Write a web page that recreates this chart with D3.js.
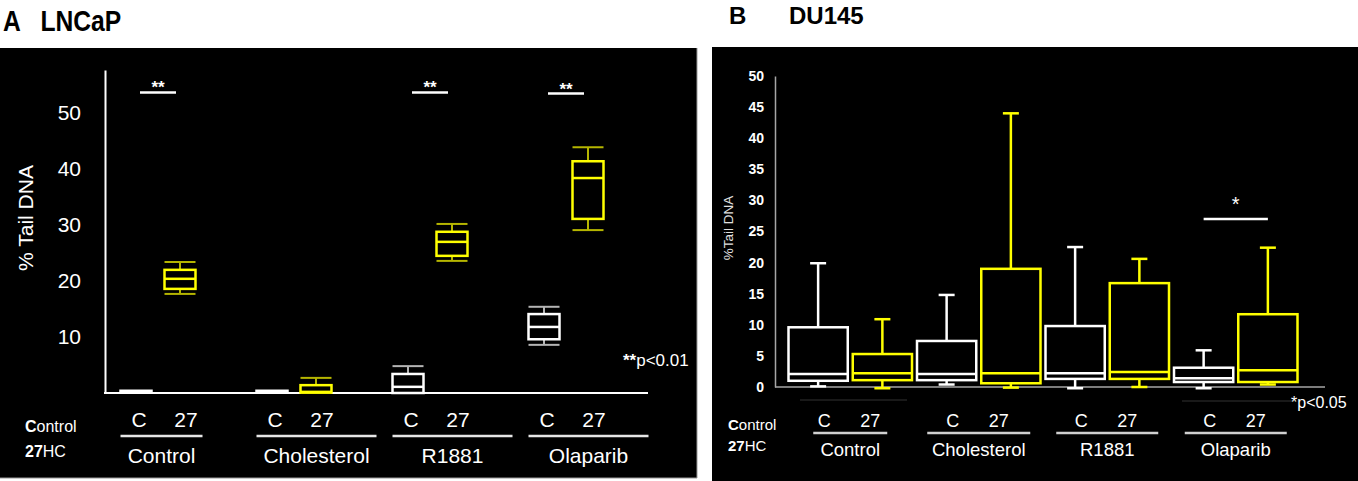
<!DOCTYPE html>
<html>
<head>
<meta charset="utf-8">
<script src="https://cdn.jsdelivr.net/npm/d3@7/dist/d3.min.js"></script>
<style>
  body { margin: 0; background: #fff; }
  svg text { font-family: "Liberation Sans", Arial, sans-serif; }
</style>
</head>
<body>
<div id="zone"></div>
<script>
  "use strict";

  // ---- données ----
  var groups = ["Control", "Cholesterol", "R1881", "Olaparib"];
  var treatments = ["C", "27"];

  var ticksA = [10, 20, 30, 40, 50];
  var ticksB = [0, 5, 10, 15, 20, 25, 30, 35, 40, 45, 50];

  // LNCaP, ordre : Control C, Control 27, Cholesterol C, Cholesterol 27, R1881 C, R1881 27, Olaparib C, Olaparib 27
  var lncapMin = [0.2, 17.7, 0.2, 0.0, 0.0, 23.6, 8.6, 29.1];
  var lncapQ1  = [0.2, 18.6, 0.2, 0.1, 0.0, 24.5, 9.6, 31.1];
  var lncapMed = [0.3, 20.4, 0.3, 0.2, 1.1, 27.0, 11.8, 38.4];
  var lncapQ3  = [0.4, 22.0, 0.4, 1.4, 3.4, 28.8, 14.1, 41.4];
  var lncapMax = [0.4, 23.4, 0.4, 2.7, 4.8, 30.2, 15.4, 43.9];

  // DU145, même ordre
  var du145Min = [0.1, -0.2, 0.4, -0.1, -0.2, 0.0, -0.2, 0.4];
  var du145Q1  = [1.0, 1.1, 1.1, 0.6, 1.3, 1.3, 0.8, 0.8];
  var du145Med = [2.1, 2.2, 2.1, 2.2, 2.2, 2.4, 1.4, 2.7];
  var du145Q3  = [9.6, 5.3, 7.4, 19.0, 9.8, 16.7, 3.1, 11.7];
  var du145Max = [19.9, 10.9, 14.8, 44.0, 22.5, 20.6, 5.9, 22.4];

  // barres de significativité : groupe, hauteur, étiquette
  var sigA = [{ group: "Control", value: 53.7, label: "**" },
              { group: "R1881", value: 53.7, label: "**" },
              { group: "Olaparib", value: 53.5, label: "**" }];
  var sigB = [{ group: "Olaparib", value: 27.0, label: "*" }];

  function buildStats(mins, q1s, meds, q3s, maxs) {
    var out = [];
    groups.forEach(function(g, gi) {
      treatments.forEach(function(t, ti) {
        var i = gi * 2 + ti;
        out.push({ group: g, treatment: t, min: mins[i], q1: q1s[i], med: meds[i], q3: q3s[i], max: maxs[i] });
      });
    });
    return out;
  }

  var statsA = buildStats(lncapMin, lncapQ1, lncapMed, lncapQ3, lncapMax);
  var statsB = buildStats(du145Min, du145Q1, du145Med, du145Q3, du145Max);

  var svg = d3.select("#zone").append("svg")
    .attr("width", 1358)
    .attr("height", 481);

  // ---- dessin d'une série de boîtes ----
  function drawBoxes(layer, stats, xc, y, boxW, capW, boxColor, whiskerColor, sw, wsw) {
    var box = layer.selectAll(".box").data(stats).enter().append("g").attr("class", "box");

    box.append("line")
      .attr("x1", function(d) { return xc(d); }).attr("x2", function(d) { return xc(d); })
      .attr("y1", function(d) { return y(d.max); }).attr("y2", function(d) { return y(d.q3); })
      .attr("stroke", function(d) { return whiskerColor[d.treatment]; }).attr("stroke-width", wsw);
    box.append("line")
      .attr("x1", function(d) { return xc(d); }).attr("x2", function(d) { return xc(d); })
      .attr("y1", function(d) { return y(d.q1); }).attr("y2", function(d) { return y(d.min); })
      .attr("stroke", function(d) { return whiskerColor[d.treatment]; }).attr("stroke-width", wsw);
    // moustaches (caps)
    ["max", "min"].forEach(function(k) {
      box.filter(function(d) { return d.max - d.min > 1; }).append("line")
        .attr("x1", function(d) { return xc(d) - capW / 2; }).attr("x2", function(d) { return xc(d) + capW / 2; })
        .attr("y1", function(d) { return y(d[k]); }).attr("y2", function(d) { return y(d[k]); })
        .attr("stroke", function(d) { return whiskerColor[d.treatment]; }).attr("stroke-width", wsw);
    });
    box.append("rect")
      .attr("x", function(d) { return xc(d) - boxW / 2; })
      .attr("width", boxW)
      .attr("y", function(d) { return y(d.q3); })
      .attr("height", function(d) { return Math.max(0.5, y(d.q1) - y(d.q3)); })
      .attr("fill", "none")
      .attr("stroke", function(d) { return boxColor[d.treatment]; })
      .attr("stroke-width", sw);
    box.append("line")
      .attr("x1", function(d) { return xc(d) - boxW / 2; }).attr("x2", function(d) { return xc(d) + boxW / 2; })
      .attr("y1", function(d) { return y(d.med); }).attr("y2", function(d) { return y(d.med); })
      .attr("stroke", function(d) { return boxColor[d.treatment]; }).attr("stroke-width", sw);
  }

  // =====================  Panneau A : LNCaP  =====================
  var gA = svg.append("g").attr("id", "panelA");
  gA.append("rect").attr("x", 0).attr("y", 48).attr("width", 697).attr("height", 430).attr("fill", "#000");
  gA.append("line").attr("x1", 697).attr("x2", 697).attr("y1", 48).attr("y2", 478).attr("stroke", "#999");
  gA.append("line").attr("x1", 0).attr("x2", 697).attr("y1", 478).attr("y2", 478).attr("stroke", "#999");

  var title = gA.append("g").attr("transform", "translate(3,31) scale(0.85,1)");
  title.append("text").text("A").attr("font-size", 29).attr("font-weight", "bold");
  title.append("text").text("LNCaP").attr("x", 44).attr("font-size", 29).attr("font-weight", "bold");

  var yA = d3.scaleLinear().domain([0, 57.7]).range([393, 70]);
  var gxA = d3.scaleBand().domain(groups).range([90, 634]);
  var txA = d3.scalePoint().domain(treatments).range([-22, 22]);
  function xcA(d) { return gxA(d.group) + gxA.bandwidth() / 2 + txA(d.treatment); }

  var axA = gA.append("g").attr("transform", "translate(105,0)")
    .call(d3.axisLeft(yA).tickValues(ticksA).tickSize(0).tickSizeOuter(0).tickPadding(24));
  axA.select(".domain").attr("stroke", "#fff").attr("stroke-width", 2);
  axA.selectAll("text").attr("fill", "#fff").attr("font-size", 21)
    .attr("font-family", "\"Liberation Sans\", Arial, sans-serif");

  gA.append("line").attr("x1", 104).attr("x2", 648).attr("y1", yA(0)).attr("y2", yA(0))
    .attr("stroke", "#fff").attr("stroke-width", 2);

  gA.append("text").text("% Tail DNA")
    .attr("transform", "translate(33,218) rotate(-90)")
    .attr("text-anchor", "middle").attr("fill", "#fff").attr("font-size", 21);

  drawBoxes(gA.append("g"), statsA, xcA, yA, 31, 31,
    { "C": "#ffffff", "27": "#ffff00" }, { "C": "#b4b4b4", "27": "#b5b500" }, 2.5, 2);

  sigA.forEach(function(s) {
    var cx = gxA(s.group) + gxA.bandwidth() / 2;
    gA.append("line").attr("x1", cx - 18).attr("x2", cx + 18)
      .attr("y1", yA(s.value)).attr("y2", yA(s.value)).attr("stroke", "#fff").attr("stroke-width", 2.5);
    gA.append("text").text(s.label).attr("x", cx).attr("y", yA(s.value) + 1)
      .attr("text-anchor", "middle").attr("fill", "#fff").attr("font-size", 17).attr("font-weight", "bold");
  });

  var pA = gA.append("text").attr("x", 623).attr("y", 366).attr("fill", "#fff").attr("font-size", 17);
  pA.append("tspan").text("**").attr("font-weight", "bold");
  pA.append("tspan").text("p<0.01");

  // étiquettes du bas
  var legA = gA.append("text").attr("x", 25).attr("y", 432).attr("fill", "#fff").attr("font-size", 16);
  legA.append("tspan").text("C").attr("font-weight", "bold");
  legA.append("tspan").text("ontrol");
  var legA2 = gA.append("text").attr("x", 25).attr("y", 457).attr("fill", "#fff").attr("font-size", 16);
  legA2.append("tspan").text("27").attr("font-weight", "bold");
  legA2.append("tspan").text("HC");

  gA.selectAll(".tlab").data(statsA).enter().append("text")
    .attr("class", "tlab")
    .attr("x", function(d) { return xcA(d) + (d.treatment === "C" ? 3 : 6); })
    .attr("y", 427).attr("text-anchor", "middle").attr("fill", "#fff").attr("font-size", 21)
    .text(function(d) { return d.treatment; });

  var underlineA = [82, 120, 120, 120];
  groups.forEach(function(g, i) {
    var x0 = gxA(g) + gxA.bandwidth() / 2 + txA("C") - 15.5;
    gA.append("line").attr("x1", x0).attr("x2", x0 + underlineA[i]).attr("y1", 436).attr("y2", 436)
      .attr("stroke", "#e6e6e6").attr("stroke-width", 2.5);
    gA.append("text").text(g).attr("x", x0 + underlineA[i] / 2).attr("y", 463)
      .attr("text-anchor", "middle").attr("fill", "#fff").attr("font-size", 21);
  });

  // =====================  Panneau B : DU145  =====================
  var gB = svg.append("g").attr("id", "panelB");
  gB.append("rect").attr("x", 712).attr("y", 47).attr("width", 646).attr("height", 434).attr("fill", "#000");

  gB.append("text").text("B").attr("x", 729).attr("y", 24).attr("font-size", 24).attr("font-weight", "bold");
  gB.append("text").text("DU145").attr("x", 789).attr("y", 24).attr("font-size", 24).attr("font-weight", "bold");

  var yB = d3.scaleLinear().domain([0, 50]).range([387, 76]);
  var gxB = d3.scaleBand().domain(groups).range([786, 1300]);
  var txB = d3.scaleBand().domain(treatments).range([0, gxB.bandwidth()]);
  function xcB(d) { return gxB(d.group) + txB(d.treatment) + txB.bandwidth() / 2; }

  var axB = gB.append("g").attr("transform", "translate(775,0)")
    .call(d3.axisLeft(yB).tickValues(ticksB).tickSize(0).tickSizeOuter(0).tickPadding(11));
  axB.select(".domain").attr("stroke", "#a6a6a6").attr("stroke-width", 1.5);
  axB.selectAll("text").attr("fill", "#fff").attr("font-size", 14).attr("font-weight", "bold")
    .attr("font-family", "\"Liberation Sans\", Arial, sans-serif");

  gB.append("line").attr("x1", 775).attr("x2", 1325).attr("y1", yB(0)).attr("y2", yB(0))
    .attr("stroke", "#a6a6a6").attr("stroke-width", 1.5);

  gB.append("text").text("%Tail DNA")
    .attr("transform", "translate(733,228) rotate(-90)")
    .attr("text-anchor", "middle").attr("fill", "#e0e0e0").attr("font-size", 13.5);

  drawBoxes(gB.append("g"), statsB, xcB, yB, txB.bandwidth() - 5, 16,
    { "C": "#ffffff", "27": "#ffff00" }, { "C": "#ffffff", "27": "#ffff00" }, 2.5, 2.5);

  sigB.forEach(function(s) {
    var x1 = gxB(s.group) + txB("C") + txB.bandwidth() / 2;
    var x2 = gxB(s.group) + txB("27") + txB.bandwidth() / 2;
    gB.append("line").attr("x1", x1).attr("x2", x2)
      .attr("y1", yB(s.value)).attr("y2", yB(s.value)).attr("stroke", "#fff").attr("stroke-width", 2.5);
    gB.append("text").text(s.label).attr("x", (x1 + x2) / 2).attr("y", yB(s.value) - 8)
      .attr("text-anchor", "middle").attr("fill", "#fff").attr("font-size", 20);
  });

  // fines lignes grises sous l'axe
  gB.append("line").attr("x1", 800).attr("x2", 907).attr("y1", 400).attr("y2", 400).attr("stroke", "#333");
  gB.append("line").attr("x1", 1182).attr("x2", 1293).attr("y1", 401).attr("y2", 401).attr("stroke", "#333");

  var pB = gB.append("text").attr("x", 1291).attr("y", 408).attr("fill", "#fff").attr("font-size", 16);
  pB.append("tspan").text("*");
  pB.append("tspan").text("p<0.05");

  var legB = gB.append("text").attr("x", 728).attr("y", 430).attr("fill", "#fff").attr("font-size", 15);
  legB.append("tspan").text("C").attr("font-weight", "bold");
  legB.append("tspan").text("ontrol");
  var legB2 = gB.append("text").attr("x", 728).attr("y", 451).attr("fill", "#fff").attr("font-size", 15);
  legB2.append("tspan").text("27").attr("font-weight", "bold");
  legB2.append("tspan").text("HC");

  gB.selectAll(".tlab").data(statsB).enter().append("text")
    .attr("class", "tlab")
    .attr("x", function(d) { return xcB(d) + (d.treatment === "C" ? 6 : -12); })
    .attr("y", 427).attr("text-anchor", "middle").attr("fill", "#fff").attr("font-size", 18)
    .text(function(d) { return d.treatment; });

  var underlineB = [74, 103, 102, 102];
  groups.forEach(function(g, i) {
    var cx = gxB(g) + gxB.bandwidth() / 2;
    gB.append("line").attr("x1", cx - underlineB[i] / 2).attr("x2", cx + underlineB[i] / 2)
      .attr("y1", 433).attr("y2", 433).attr("stroke", "#d0d0d0").attr("stroke-width", 2.5);
    gB.append("text").text(g).attr("x", cx).attr("y", 456)
      .attr("text-anchor", "middle").attr("fill", "#fff").attr("font-size", 18.5);
  });
</script>
</body>
</html>
